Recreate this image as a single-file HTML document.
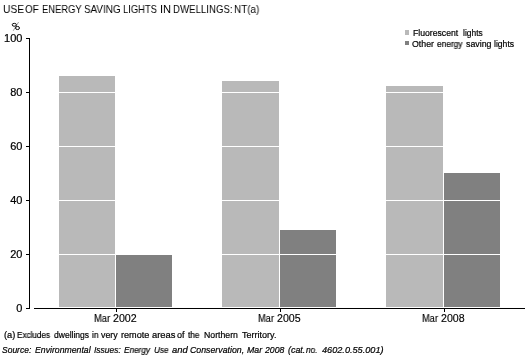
<!DOCTYPE html>
<html><head><meta charset="utf-8">
<style>
html,body{margin:0;padding:0;background:#fff;}
body{width:529px;height:363px;position:relative;overflow:hidden;font-family:"Liberation Sans",sans-serif;color:#000;}
.a{position:absolute;transform-origin:0 0;-webkit-text-stroke:0.2px #000;white-space:nowrap;line-height:1;will-change:transform;-webkit-font-smoothing:antialiased;}
.r{position:absolute;}
.lt{background:#b9b9b9;}
.dk{background:#808080;}
.k{background:#000;}
.w{background:#fff;}
.yl{left:0;width:22.45px;text-align:right;font-size:10px;transform-origin:100% 0 !important;transform:scaleX(1.1);}
</style></head><body>
<svg style="position:absolute;left:0;top:0" width="30" height="34" viewBox="0 0 30 34"><ellipse cx="14.3" cy="24.8" rx="2.1" ry="1.45" fill="none" stroke="#000" stroke-width="0.95"/><ellipse cx="17.5" cy="28" rx="2.0" ry="1.55" fill="none" stroke="#000" stroke-width="0.95"/><line x1="18.6" y1="22" x2="13.2" y2="30.8" stroke="#000" stroke-opacity="0.55" stroke-width="0.7"/></svg>
<!-- y labels -->
<div class="a yl" style="top:34px;">100</div>
<div class="a yl" style="top:88px;">80</div>
<div class="a yl" style="top:142px;">60</div>
<div class="a yl" style="top:196px;">40</div>
<div class="a yl" style="top:250px;">20</div>
<div class="a yl" style="top:304px;">0</div>
<!-- bars -->
<div class="r lt" style="left:59px;top:76px;width:56px;height:231px;"></div>
<div class="r dk" style="left:116px;top:254px;width:56px;height:53px;"></div>
<div class="r lt" style="left:222px;top:81px;width:57px;height:226px;"></div>
<div class="r dk" style="left:280px;top:230px;width:56px;height:77px;"></div>
<div class="r lt" style="left:386px;top:86px;width:57px;height:221px;"></div>
<div class="r dk" style="left:444px;top:173px;width:56px;height:134px;"></div>
<!-- gridlines -->
<div class="r w" style="left:30px;top:38px;width:495px;height:1px;"></div>
<div class="r w" style="left:30px;top:92px;width:495px;height:1px;"></div>
<div class="r w" style="left:30px;top:146px;width:495px;height:1px;"></div>
<div class="r w" style="left:30px;top:200px;width:495px;height:1px;"></div>
<div class="r w" style="left:30px;top:254px;width:495px;height:1px;"></div>
<!-- axes -->
<div class="r k" style="left:29px;top:38px;width:1px;height:271px;"></div>
<div class="r k" style="left:26px;top:38px;width:3px;height:1px;"></div>
<div class="r k" style="left:26px;top:92px;width:3px;height:1px;"></div>
<div class="r k" style="left:26px;top:146px;width:3px;height:1px;"></div>
<div class="r k" style="left:26px;top:200px;width:3px;height:1px;"></div>
<div class="r k" style="left:26px;top:254px;width:3px;height:1px;"></div>
<div class="r k" style="left:26px;top:308px;width:3px;height:1px;"></div>
<div class="r k" style="left:34px;top:308px;width:491px;height:1px;"></div>
<div class="r k" style="left:116px;top:309px;width:1px;height:3px;"></div>
<div class="r k" style="left:280px;top:309px;width:1px;height:3px;"></div>
<div class="r k" style="left:444px;top:309px;width:1px;height:3px;"></div>
<!-- legend -->
<div class="r lt" style="left:405px;top:30px;width:4px;height:5px;"></div>
<div class="r dk" style="left:405px;top:41px;width:4px;height:4px;"></div>
<!-- text -->
<div class="a" style="left:2.69px;top:4px;font-size:11px;-webkit-text-stroke:0px #000;transform:scaleX(0.9344);">USE</div>
<div class="a" style="left:25.49px;top:4px;font-size:11px;-webkit-text-stroke:0px #000;transform:scaleX(0.9026);">OF</div>
<div class="a" style="left:42.44px;top:4px;font-size:11px;-webkit-text-stroke:0px #000;transform:scaleX(0.8554);">ENERGY</div>
<div class="a" style="left:83.84px;top:4px;font-size:11px;-webkit-text-stroke:0px #000;transform:scaleX(0.897);">SAVING</div>
<div class="a" style="left:123.33px;top:4px;font-size:11px;-webkit-text-stroke:0px #000;transform:scaleX(0.852);">LIGHTS</div>
<div class="a" style="left:159.76px;top:4px;font-size:11px;-webkit-text-stroke:0px #000;transform:scaleX(1.0138);">IN</div>
<div class="a" style="left:173.3px;top:4px;font-size:11px;-webkit-text-stroke:0px #000;transform:scaleX(0.8775);">DWELLINGS:</div>
<div class="a" style="left:234.2px;top:4px;font-size:11px;-webkit-text-stroke:0px #000;transform:scaleX(0.9003);">NT(a)</div>
<div class="a" style="left:94.24px;top:314px;font-size:10px;-webkit-text-stroke:0.15px #000;transform:scaleX(0.9357);">Mar</div>
<div class="a" style="left:113.32px;top:314px;font-size:10px;-webkit-text-stroke:0.15px #000;transform:scaleX(1.0668);">2002</div>
<div class="a" style="left:258.45px;top:314px;font-size:10px;-webkit-text-stroke:0.15px #000;transform:scaleX(0.9237);">Mar</div>
<div class="a" style="left:277.33px;top:314px;font-size:10px;-webkit-text-stroke:0.15px #000;transform:scaleX(1.0607);">2005</div>
<div class="a" style="left:422.45px;top:314px;font-size:10px;-webkit-text-stroke:0.15px #000;transform:scaleX(0.9237);">Mar</div>
<div class="a" style="left:441.33px;top:314px;font-size:10px;-webkit-text-stroke:0.15px #000;transform:scaleX(1.0611);">2008</div>
<div class="a" style="left:413.22px;top:29px;font-size:8.5px;transform:scaleX(1.0182);">Fluorescent</div>
<div class="a" style="left:462.53px;top:29px;font-size:8.5px;transform:scaleX(0.9929);">lights</div>
<div class="a" style="left:412.4px;top:40px;font-size:8.5px;transform:scaleX(1.0338);">Other</div>
<div class="a" style="left:437.48px;top:40px;font-size:8.5px;transform:scaleX(0.9767);">energy</div>
<div class="a" style="left:466.39px;top:40px;font-size:8.5px;transform:scaleX(1.0384);">saving</div>
<div class="a" style="left:493.52px;top:40px;font-size:8.5px;transform:scaleX(1.0139);">lights</div>
<div class="a" style="left:3.51px;top:331px;font-size:8.5px;transform:scaleX(1.0892);">(a)</div>
<div class="a" style="left:17.06px;top:331px;font-size:8.5px;transform:scaleX(0.9573);">Excludes</div>
<div class="a" style="left:53.66px;top:331px;font-size:8.5px;transform:scaleX(1.0038);">dwellings</div>
<div class="a" style="left:92.06px;top:331px;font-size:8.5px;transform:scaleX(0.9696);">in</div>
<div class="a" style="left:101.42px;top:331px;font-size:8.5px;transform:scaleX(1.0415);">very</div>
<div class="a" style="left:121.38px;top:331px;font-size:8.5px;transform:scaleX(1.0748);">remote</div>
<div class="a" style="left:151.63px;top:331px;font-size:8.5px;transform:scaleX(1.1021);">areas</div>
<div class="a" style="left:177.13px;top:331px;font-size:8.5px;transform:scaleX(1.0595);">of</div>
<div class="a" style="left:187.94px;top:331px;font-size:8.5px;transform:scaleX(0.9697);">the</div>
<div class="a" style="left:204.42px;top:331px;font-size:8.5px;transform:scaleX(1.0263);">Northern</div>
<div class="a" style="left:242.01px;top:331px;font-size:8.5px;transform:scaleX(1.0614);">Territory.</div>
<div class="a" style="left:2.35px;top:346px;font-size:8.5px;font-style:italic;">Source:</div>
<div class="a" style="left:35.39px;top:346px;font-size:8.5px;font-style:italic;transform:scaleX(1.0241);">Environmental</div>
<div class="a" style="left:94.31px;top:346px;font-size:8.5px;font-style:italic;transform:scaleX(0.993);">Issues:</div>
<div class="a" style="left:124.3px;top:346px;font-size:8.5px;font-style:italic;transform:scaleX(0.9653);">Energy</div>
<div class="a" style="left:154.15px;top:346px;font-size:8.5px;font-style:italic;transform:scaleX(0.9535);">Use</div>
<div class="a" style="left:171.59px;top:346px;font-size:8.5px;font-style:italic;transform:scaleX(1.1108);">and</div>
<div class="a" style="left:190.07px;top:346px;font-size:8.5px;font-style:italic;transform:scaleX(1.0314);">Conservation,</div>
<div class="a" style="left:247.02px;top:346px;font-size:8.5px;font-style:italic;transform:scaleX(1.032);">Mar</div>
<div class="a" style="left:265.42px;top:346px;font-size:8.5px;font-style:italic;transform:scaleX(1.0187);">2008</div>
<div class="a" style="left:288.12px;top:346px;font-size:8.5px;font-style:italic;transform:scaleX(1.0458);">(cat.</div>
<div class="a" style="left:306.43px;top:346px;font-size:8.5px;font-style:italic;transform:scaleX(0.9633);">no.</div>
<div class="a" style="left:321.76px;top:346px;font-size:8.5px;font-style:italic;transform:scaleX(1.0763);">4602.0.55.001)</div>
</body></html>
